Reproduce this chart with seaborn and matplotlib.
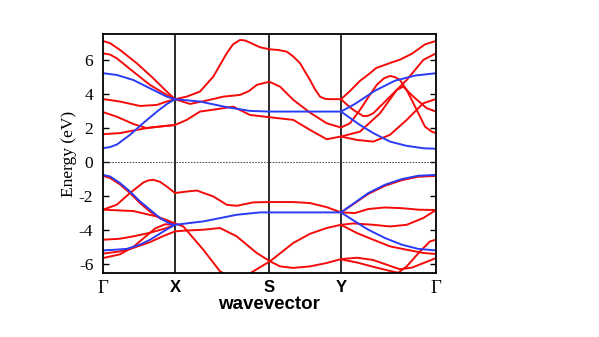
import matplotlib
matplotlib.use("Agg")
import matplotlib.pyplot as plt
import seaborn as sns
import numpy as np
import pandas as pd

# high-symmetry points along the path (arbitrary path-length units)
kpt_pos = [0.0, 0.72, 1.66, 2.38, 3.33]
kpt_labels = ["Γ", "X", "S", "Y", "Γ"]
yticks = [-6, -4, -2, 0, 2, 4, 6]

RED = "#f50a0a"
BLUE = "#2a3cf5"

# ---------------- conduction bands ----------------
cb_top_k = [0, .07, .17, .337, .503, .637, .72, .837, .97, 1.103, 1.237, 1.30, 1.37, 1.42, 1.47, 1.57, 1.663,
            1.75, 1.837, 1.90, 1.97, 2.07, 2.12, 2.17, 2.22, 2.27, 2.38, 2.47, 2.57, 2.67, 2.73, 2.87, 2.97,
            3.09, 3.22, 3.33]
cb_top_e = [7.15, 7.02, 6.62, 5.84, 4.95, 4.17, 3.72, 3.87, 4.17, 5.05, 6.42, 6.95, 7.21, 7.18, 7.05, 6.78, 6.66,
            6.62, 6.52, 6.25, 5.84, 4.85, 4.3, 3.87, 3.74, 3.72, 3.72, 4.2, 4.8, 5.25, 5.55, 5.85, 6.05,
            6.4, 6.95, 7.15]

cb_2_k = [0, .07, .137, .303, .47, .637, .72, .87, 1.037, 1.203, 1.37, 1.46, 1.537, 1.663, 1.77, 1.903,
          2.07, 2.237, 2.38, 2.47, 2.57, 2.66, 2.737, 2.81, 2.87, 2.92, 2.97, 3.037, 3.137, 3.22, 3.287, 3.33]
cb_2_e = [6.42, 6.35, 6.13, 5.34, 4.56, 3.97, 3.72, 3.44, 3.64, 3.87, 3.97, 4.2, 4.56, 4.75, 4.46, 3.68,
          2.93, 2.3, 2.05, 2.3, 3.09, 3.9, 4.56, 4.95, 5.09, 5.02, 4.85, 4.26, 3.09, 2.1, 1.81, 1.72]

cb_5_k = [0, .17, .37, .537, .637, .72]
cb_5_e = [3.73, 3.58, 3.32, 3.38, 3.58, 3.72]

cb_v_k = [2.38, 2.45, 2.503, 2.603, 2.65, 2.703, 2.87, 3.037, 3.203, 3.33]
cb_v_e = [3.72, 3.34, 3.09, 2.72, 2.74, 2.89, 3.87, 4.85, 6.03, 6.42]

cb_6_k = [0, .137, .303, .437, .57, .72, .837, .97, 1.137, 1.303, 1.47, 1.663, 1.903, 2.07,
          2.237, 2.38, 2.57, 2.77, 2.937, 3.003, 3.103, 3.237, 3.33]
cb_6_e = [2.96, 2.69, 2.26, 2.01, 2.11, 2.2, 2.5, 2.99, 3.13, 3.28, 2.79, 2.66, 2.5, 1.91,
          1.36, 1.52, 1.81, 2.89, 4.26, 4.46, 3.87, 3.19, 2.99]

cb_7_k = [0, .17, .337, .47, .637, .72]
cb_7_e = [1.66, 1.72, 1.91, 2.05, 2.15, 2.2]

cb_c_k = [2.38, 2.537, 2.703, 2.87, 3.037, 3.203, 3.33]
cb_c_e = [1.52, 1.32, 1.22, 1.62, 2.5, 3.48, 3.73]

cb_bu_k = [0, .137, .303, .47, .637, .72, .97, 1.237, 1.47, 1.663, 2.38, 2.52, 2.72, 2.92, 3.12, 3.33]
cb_bu_e = [5.25, 5.15, 4.85, 4.36, 3.87, 3.72, 3.58, 3.25, 3.03, 2.99, 2.99, 3.44, 4.22, 4.81, 5.11, 5.25]

cb_bl1_k = [0, .07, .14, .27, .40, .54, .64, .72]
cb_bl1_e = [0.83, 0.9, 1.05, 1.62, 2.3, 2.99, 3.44, 3.72]
cb_bl2_k = [2.38, 2.57, 2.703, 2.87, 3.037, 3.203, 3.33]
cb_bl2_e = [2.99, 2.2, 1.72, 1.22, 0.97, 0.83, 0.8]

# ---------------- valence bands ----------------
vb_bu_k = [0, .07, .17, .27, .37, .47, .57, .67, .72, 1.003, 1.337, 1.57, 1.663, 2.38,
           2.653, 2.82, 2.987, 3.153, 3.33]
vb_bu_e = [-.74, -.83, -1.22, -1.72, -2.3, -2.79, -3.28, -3.62, -3.68, -3.48, -3.09, -2.95, -2.95, -2.95,
           -1.81, -1.32, -.99, -.79, -.74]

vb_r1_k = [0, .07, .17, .27, .37, .47, .57, .67, .72]
vb_r1_e = [-.8, -.92, -1.3, -1.81, -2.4, -2.9, -3.3, -3.55, -3.6]
vb_r1b_k = [2.38, 2.52, 2.65, 2.82, 2.99, 3.15, 3.33]
vb_r1b_e = [-2.95, -2.4, -1.87, -1.38, -1.05, -.85, -.8]

vb_2_k = [0, .137, .27, .403, .45, .503, .57, .637, .72, .837, .937, 1.103, 1.237, 1.337, 1.503, 1.663,
          1.903, 2.07, 2.237, 2.38, 2.52, 2.653, 2.82, 2.987, 3.153, 3.33]
vb_2_e = [-2.79, -2.5, -1.81, -1.19, -1.07, -1.03, -1.15, -1.42, -1.81, -1.72, -1.66, -2.01, -2.5, -2.56, -2.36, -2.34,
          -2.34, -2.4, -2.64, -2.95, -2.99, -2.75, -2.66, -2.7, -2.79, -2.81]

vb_3_k = [0, .303, .537, .637, .72, .803, 1.003, 1.17, 1.34, 1.503, 1.67, 1.903, 2.07, 2.237,
          2.38, 2.503, 2.703, 2.87, 3.037, 3.203, 3.33]
vb_3_e = [-2.79, -2.87, -3.19, -3.4, -3.6, -3.78, -5.15, -6.42, -7.0, -6.42, -5.83, -4.75, -4.21, -3.87,
          -3.68, -3.6, -3.68, -3.78, -3.68, -3.28, -2.81]

vb_4_k = [0, .17, .303, .47, .637, .72]
vb_4_e = [-4.56, -4.5, -4.36, -4.15, -3.87, -3.68]

vb_bl1_k = [0, .12, .237, .37, .47, .57, .637, .72]
vb_bl1_e = [-5.19, -5.15, -5.1, -4.85, -4.56, -4.2, -3.95, -3.68]
vb_bl2_k = [2.38, 2.52, 2.653, 2.82, 2.987, 3.153, 3.33]
vb_bl2_e = [-2.95, -3.48, -3.97, -4.46, -4.85, -5.1, -5.19]

vb_6_k = [0, .17, .30, .47, .60, .72, .80, 1.003, 1.17, 1.337, 1.537, 1.67, 1.77, 1.903,
          2.07, 2.237, 2.38, 2.54, 2.70, 2.87, 2.97, 3.09, 3.22, 3.33]
vb_6_e = [-5.38, -5.25, -5.05, -4.7, -4.35, -4.07, -4.03, -3.97, -3.87, -4.36, -5.34, -5.83, -6.13, -6.22,
          -6.13, -5.93, -5.7, -5.62, -5.75, -6.1, -6.3, -6.2, -5.9, -5.64]

vb_7_k = [0, .17, .30, .42, .52, .62, .72]
vb_7_e = [-5.64, -5.42, -5.0, -4.4, -3.9, -3.65, -3.68]

vb_y1_k = [2.38, 2.537, 2.703, 2.87, 3.037, 3.203, 3.33]
vb_y1_e = [-3.68, -4.16, -4.56, -4.95, -5.15, -5.34, -5.4]

vb_q_k = [2.38, 2.54, 2.70, 2.87, 3.02, 3.17]
vb_q_e = [-5.72, -5.9, -6.15, -6.4, -6.6, -6.8]

vb_r_k = [2.70, 2.82, 2.937, 3.037, 3.17, 3.27, 3.33]
vb_r_e = [-7.5, -6.9, -6.58, -6.13, -5.25, -4.66, -4.56]

bands = [
    ("cb_top", cb_top_k, cb_top_e, "r"), ("cb_2", cb_2_k, cb_2_e, "r"),
    ("cb_5", cb_5_k, cb_5_e, "r"), ("cb_v", cb_v_k, cb_v_e, "r"),
    ("cb_6", cb_6_k, cb_6_e, "r"), ("cb_7", cb_7_k, cb_7_e, "r"),
    ("cb_c", cb_c_k, cb_c_e, "r"),
    ("vb_r1", vb_r1_k, vb_r1_e, "r"), ("vb_r1b", vb_r1b_k, vb_r1b_e, "r"),
    ("vb_2", vb_2_k, vb_2_e, "r"), ("vb_3", vb_3_k, vb_3_e, "r"),
    ("vb_4", vb_4_k, vb_4_e, "r"), ("vb_6", vb_6_k, vb_6_e, "r"),
    ("vb_7", vb_7_k, vb_7_e, "r"), ("vb_y1", vb_y1_k, vb_y1_e, "r"),
    ("vb_q", vb_q_k, vb_q_e, "r"), ("vb_r", vb_r_k, vb_r_e, "r"),
    ("cb_bu", cb_bu_k, cb_bu_e, "b"), ("cb_bl1", cb_bl1_k, cb_bl1_e, "b"),
    ("cb_bl2", cb_bl2_k, cb_bl2_e, "b"),
    ("vb_bu", vb_bu_k, vb_bu_e, "b"), ("vb_bl1", vb_bl1_k, vb_bl1_e, "b"),
    ("vb_bl2", vb_bl2_k, vb_bl2_e, "b"),
]

df = pd.concat([pd.DataFrame({"k": k, "E": e, "band": name, "spin": s})
                for name, k, e, s in bands], ignore_index=True)

sns.set_style("ticks")
plt.rcParams.update({
    "axes.linewidth": 1.3,
    "text.color": "black",
    "axes.labelcolor": "black",
    "xtick.color": "black",
    "ytick.color": "black",
})

fig = plt.figure(figsize=(5.99, 3.37), dpi=100)
ax = fig.add_axes([103 / 599, 1 - 273 / 337, 333 / 599, 239 / 337])

sns.lineplot(data=df, x="k", y="E", units="band", estimator=None, hue="spin",
             hue_order=["r", "b"], palette={"r": RED, "b": BLUE}, sort=False,
             lw=1.4, legend=False, ax=ax)

for kp in kpt_pos[1:-1]:
    ax.axvline(kp, color="#1a1a1a", lw=1.3, zorder=1)
ax.axhline(0, color="#333333", lw=0.6, ls=(0, (2, 1.5)), zorder=1)

ax.set_xlim(kpt_pos[0], kpt_pos[-1])
ax.set_ylim(-6.52, 7.56)
ax.set_yticks(yticks)
ax.set_yticklabels([str(t) for t in yticks], family="Liberation Serif", fontsize=12.5)
ax.tick_params(axis="y", direction="in", length=4, width=1, right=True, pad=7)
ax.set_xticks(kpt_pos)
ax.set_xticklabels(kpt_labels)
ax.tick_params(axis="x", length=0, pad=5)
for i, lab in enumerate(ax.get_xticklabels()):
    if kpt_labels[i] == "Γ":
        lab.set_family("Liberation Serif")
        lab.set_fontsize(13.5)
    else:
        lab.set_family("Liberation Sans")
        lab.set_fontweight("bold")
        lab.set_fontsize(12)

ax.set_xlabel("wavevector", family="Liberation Sans", fontweight="bold", fontsize=13.5, labelpad=-1)
ax.set_ylabel("Energy (eV)", family="Liberation Serif", fontsize=12.5, labelpad=1)
for sp in ax.spines.values():
    sp.set_color("black")

fig.savefig("out.png", dpi=100)
